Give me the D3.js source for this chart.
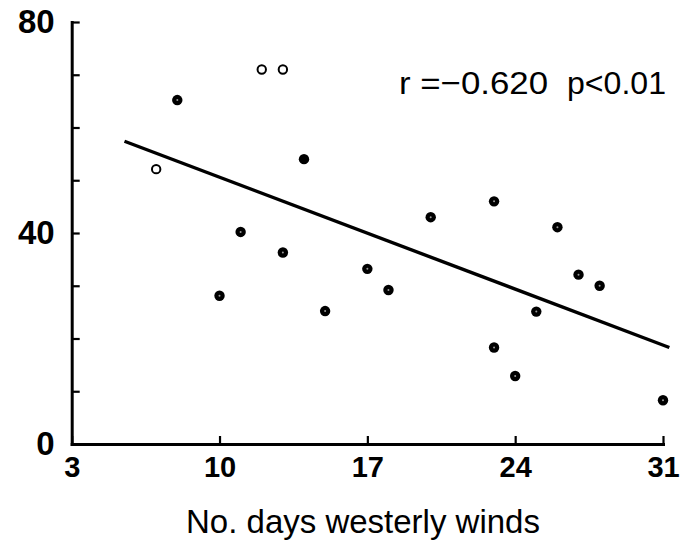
<!DOCTYPE html>
<html>
<head>
<meta charset="utf-8">
<script src="https://cdn.jsdelivr.net/npm/d3@7"></script>
<style>
  body { margin: 0; background: #fff; }
  .axis path, .axis line { stroke: #000; }
  .axis text { fill: #000; font-family: "Liberation Sans", Arial, sans-serif; font-weight: bold; }
</style>
</head>
<body>
<div id="chart"></div>
<script>
// Data
let days = [7, 8, 12, 13, 14, 10, 11, 13, 15, 17, 18, 20, 23, 23, 24, 25, 26, 27, 28, 31];
let values = [52.1, 65.2, 71.0, 71.0, 54.0, 28.1, 40.2, 36.3, 25.2, 33.2, 29.2, 43.0, 46.0, 18.3, 12.9, 25.1, 41.1, 32.1, 30.0, 8.3];
// marker kind: "open", "solid", "dot"
let kinds = ["open", "dot", "open", "open", "solid", "dot", "dot", "dot", "dot", "dot",
             "dot", "dot", "dot", "dot", "dot", "dot", "dot", "dot", "dot", "dot"];

// regression line end points
let lineX = [5.5, 31.3];
let lineY = [57.4, 18.3];

let xTicks = [3, 10, 17, 24, 31];
let yTicks = [0, 10, 20, 30, 40, 50, 60, 70, 80];
let yLabels = [0, 40, 80];

let width = 684;
let height = 547;

let svg = d3.select("#chart")
            .append("svg")
            .attr("width", width)
            .attr("height", height);

let x = d3.scaleLinear()
          .domain([3, 31])
          .range([71.7, 663]);

let y = d3.scaleLinear()
          .domain([0, 80])
          .range([444, 22]);

// x axis
let gx = svg.append("g")
            .attr("class", "axis")
            .attr("transform", "translate(0,444)")
            .call(d3.axisBottom(x)
                    .tickValues(xTicks)
                    .tickSizeInner(-8)
                    .tickSizeOuter(0)
                    .tickPadding(12));
gx.select(".domain").attr("stroke-width", 3).attr("stroke-linecap", "square");
gx.selectAll(".tick line").attr("stroke-width", 2.2);
gx.selectAll("text").attr("font-size", 29);

// y axis
let gy = svg.append("g")
            .attr("class", "axis")
            .attr("transform", "translate(71.7,0)")
            .call(d3.axisLeft(y)
                    .tickValues(yTicks)
                    .tickSizeInner(-8)
                    .tickSizeOuter(0)
                    .tickPadding(17)
                    .tickFormat(function(d) { return yLabels.indexOf(d) >= 0 ? d : ""; }));
gy.select(".domain").attr("stroke-width", 3).attr("stroke-linecap", "square");
gy.selectAll(".tick line").attr("stroke-width", 2.2);
gy.selectAll("text").attr("font-size", 33);

// regression line
svg.append("line")
   .attr("x1", x(lineX[0]))
   .attr("y1", y(lineY[0]))
   .attr("x2", x(lineX[1]))
   .attr("y2", y(lineY[1]))
   .style("stroke", "#000")
   .style("stroke-width", 3.4);

let pts = days.map(function(d, i) { return {x: d, y: values[i], kind: kinds[i]}; });

svg.selectAll("circle.pt")
   .data(pts)
   .enter()
   .append("circle")
   .attr("class", "pt")
   .attr("cx", function(d) { return x(d.x); })
   .attr("cy", function(d) { return y(d.y); })
   .attr("r", function(d) { return d.kind === "open" ? 4.2 : 5.2; })
   .style("fill", function(d) { return d.kind === "open" ? "#fff" : "#000"; })
   .style("stroke", "#000")
   .style("stroke-width", function(d) { return d.kind === "open" ? 2 : 0; });

// tiny light speck in the centre of the dotted markers
svg.selectAll("circle.speck")
   .data(pts.filter(function(d) { return d.kind === "dot"; }))
   .enter()
   .append("circle")
   .attr("class", "speck")
   .attr("cx", function(d) { return x(d.x); })
   .attr("cy", function(d) { return y(d.y); })
   .attr("r", 1)
   .style("fill", "#fff")
   .style("opacity", 0.6);

// statistics note
svg.append("text")
   .attr("x", 399)
   .attr("y", 94)
   .attr("textLength", 149)
   .attr("lengthAdjust", "spacingAndGlyphs")
   .style("font-family", "Liberation Sans, Arial, sans-serif")
   .style("font-size", "32px")
   .text("r =\u22120.620");

svg.append("text")
   .attr("x", 567)
   .attr("y", 94)
   .attr("textLength", 99)
   .attr("lengthAdjust", "spacingAndGlyphs")
   .style("font-family", "Liberation Sans, Arial, sans-serif")
   .style("font-size", "32px")
   .text("p<0.01");

// axis title
svg.append("text")
   .attr("x", 363)
   .attr("y", 533)
   .attr("text-anchor", "middle")
   .style("font-family", "Liberation Sans, Arial, sans-serif")
   .style("font-size", "33px")
   .text("No. days westerly winds");
</script>
</body>
</html>
